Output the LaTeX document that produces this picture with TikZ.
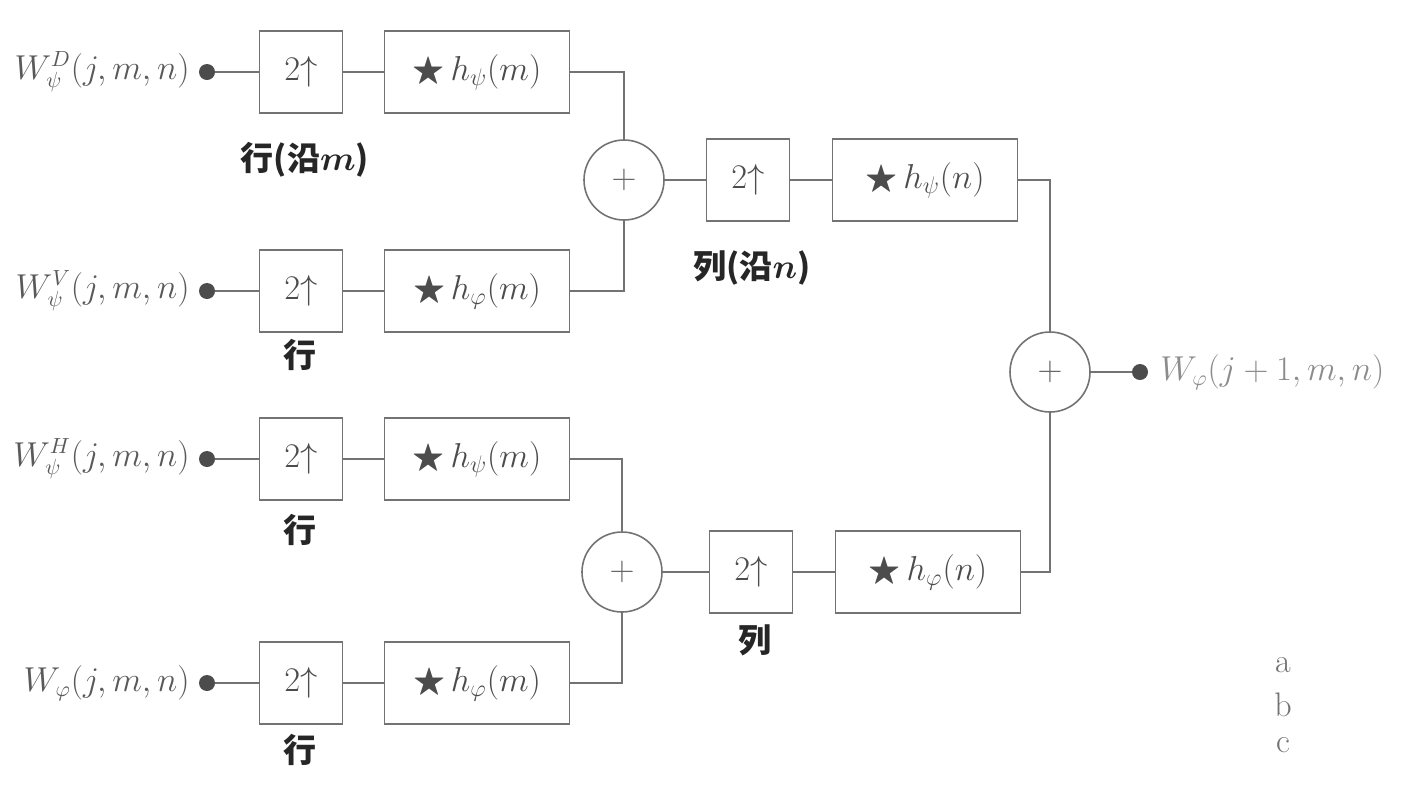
\documentclass[tikz,border=0pt]{standalone}
\usepackage{fontspec}
\usepackage{amsmath,amssymb}
\newfontfamily\cjk{Noto Sans CJK SC}
\begin{document}
\begin{tikzpicture}[x=0.5pt,y=-0.5pt,
  conn/.style={draw=black!55, line width=0.8pt},
  box/.style={draw=black!55, line width=0.8pt, minimum height=41pt, inner sep=0pt,
    font=\fontsize{17}{20}\selectfont, text=black!70},
  upbox/.style={box, minimum width=41.5pt},
  hbox/.style={box, minimum width=92.5pt},
  sumnode/.style={circle, draw=black!55, line width=0.8pt, minimum size=40pt, inner sep=0pt,
    font=\fontsize{17}{20}\selectfont, text=black!60},
  dotnode/.style={circle, fill=black!70, minimum size=8pt, inner sep=0pt},
  lab/.style={font=\fontsize{16}{19}\selectfont, text=black!65, inner sep=0pt},
  cn/.style={font=\fontsize{16.5}{19}\selectfont\cjk\bfseries, text=black!85, inner sep=0pt},
  abc/.style={font=\fontsize{17}{20}\selectfont, text=black!55, inner sep=0pt}]
\useasboundingbox (0,0) rectangle (1412,794);

% inputs
\node[dotnode] (d1) at (207,72) {};
\node[dotnode] (d2) at (207,291) {};
\node[dotnode] (d3) at (207,459) {};
\node[dotnode] (d4) at (207,683) {};
\node[lab, anchor=east] (l1) at (190,72) {$W_{\psi}^{D}(j,m,n)$};
\node[lab, anchor=east] (l2) at (190,291) {$W_{\psi}^{V}(j,m,n)$};
\node[lab, anchor=east] (l3) at (190,459) {$W_{\psi}^{H}(j,m,n)$};
\node[lab, anchor=east] (l4) at (190,683) {$W_{\varphi}(j,m,n)$};

% row boxes
\node[upbox] (u1) at (301,72) {$2{\uparrow}$};
\node[hbox]  (h1) at (477,72) {$\bigstar\, h_{\psi}(m)$};
\node[upbox] (u2) at (301,291) {$2{\uparrow}$};
\node[hbox]  (h2) at (477,291) {$\bigstar\, h_{\varphi}(m)$};
\node[upbox] (u3) at (301,459) {$2{\uparrow}$};
\node[hbox]  (h3) at (477,459) {$\bigstar\, h_{\psi}(m)$};
\node[upbox] (u4) at (301,683) {$2{\uparrow}$};
\node[hbox]  (h4) at (477,683) {$\bigstar\, h_{\varphi}(m)$};

% sums
\node[sumnode] (s1) at (624,180) {$+$};
\node[sumnode] (s2) at (622,572) {$+$};
\node[sumnode] (s3) at (1050,372) {$+$};

% column boxes
\node[upbox] (cu1) at (748,180) {$2{\uparrow}$};
\node[hbox]  (ch1) at (925,180) {$\bigstar\, h_{\psi}(n)$};
\node[upbox] (cu2) at (751,572) {$2{\uparrow}$};
\node[hbox]  (ch2) at (928,572) {$\bigstar\, h_{\varphi}(n)$};

% output
\node[dotnode] (dout) at (1140,372) {};
\node[lab, anchor=west, text=black!45] (lout) at (1160,372) {$W_{\varphi}(j+1,m,n)$};

% labels
\node[cn] (t1) at (305,160) {行(沿$\boldsymbol{m}$)};
\node[cn] (t2) at (300,355) {行};
\node[cn] (t3) at (300,530) {行};
\node[cn] (t4) at (300,750) {行};
\node[cn] (t5) at (752,268) {列(沿$\boldsymbol{n}$)};
\node[cn] (t6) at (755,640) {列};

\node[abc] (ta) at (1283,665) {a};
\node[abc] (tb) at (1283,705) {b};
\node[abc] (tc) at (1283,745) {c};

% connectors
\draw[conn] (d1) -- (u1) -- (h1);
\draw[conn] (d2) -- (u2) -- (h2);
\draw[conn] (d3) -- (u3) -- (h3);
\draw[conn] (d4) -- (u4) -- (h4);
\draw[conn] (h1.east) -| (s1.north);
\draw[conn] (h2.east) -| (s1.south);
\draw[conn] (h3.east) -| (s2.north);
\draw[conn] (h4.east) -| (s2.south);
\draw[conn] (s1) -- (cu1) -- (ch1);
\draw[conn] (s2) -- (cu2) -- (ch2);
\draw[conn] (ch1.east) -| (s3.north);
\draw[conn] (ch2.east) -| (s3.south);
\draw[conn] (s3) -- (dout);
\end{tikzpicture}
\end{document}
